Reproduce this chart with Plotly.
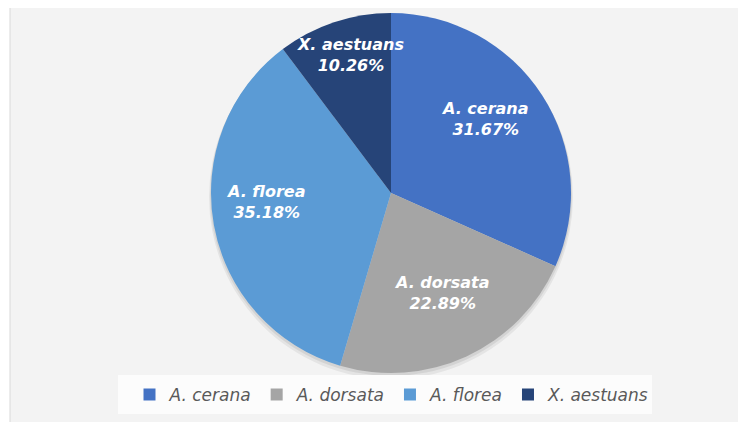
import math
import plotly.graph_objects as go

species = ["A. cerana", "A. dorsata", "A. florea", "X. aestuans"]
shares = [31.67, 22.89, 35.18, 10.26]
colors = ["#4472C4", "#A5A5A5", "#5B9BD5", "#264478"]

# label placement style (Excel "best fit" look): radial fraction and angle nudge
label_radius = [0.665, 0.62, 0.70, 0.80]
label_nudge_deg = [-5, -2, 6, 2]

W, H = 746, 426
OFF = 8  # page body margin offset
CX, CY, R = 391 - OFF, 193 - OFF, 180  # pie centre / radius in figure pixels


def px_x(p):
    return p / W


def px_y(p):
    return 1 - p / H


half = min(CX, W - CX)

fig = go.Figure()
fig.add_trace(go.Pie(
    labels=species,
    values=shares,
    sort=False,
    direction="clockwise",
    rotation=0,
    marker=dict(colors=colors, line=dict(width=0)),
    textinfo="none",
    hoverinfo="label+percent",
    domain=dict(x=[px_x(CX - half), px_x(CX + half)], y=[px_y(CY + R), px_y(CY - R)]),
))

# labels positioned from the data's own mid-angles
annotations = []
total = sum(shares)
cum = 0.0
for name, v, rf, nd in zip(species, shares, label_radius, label_nudge_deg):
    mid = (cum + v / 2) / total * 360 + nd
    cum += v
    rad = math.radians(mid)
    x = CX + rf * R * math.sin(rad)
    y = CY - rf * R * math.cos(rad)
    annotations.append(dict(
        x=px_x(x), y=px_y(y), xref="paper", yref="paper",
        text=f"<b><i>{name}</i></b><br><b><i>{v:.2f}%</i></b>",
        showarrow=False, xanchor="center", yanchor="middle",
        font=dict(family="DejaVu Sans", size=16, color="white"),
        align="center",
    ))

shapes = [
    # chart area background
    dict(type="rect", xref="paper", yref="paper", layer="below",
         x0=px_x(10 - OFF), x1=1.0, y0=px_y(422 - OFF), y1=1.0,
         fillcolor="#F3F3F3", line=dict(width=0)),
    dict(type="line", xref="paper", yref="paper", layer="below",
         x0=px_x(10 - OFF), x1=px_x(10 - OFF), y0=px_y(422 - OFF), y1=1.0,
         line=dict(color="#D9D9D9", width=1)),
    # soft shadow under the pie
    dict(type="circle", xref="paper", yref="paper", layer="below",
         x0=px_x(CX - R - 2), x1=px_x(CX + R + 2),
         y0=px_y(CY + R + 6), y1=px_y(CY - R + 2),
         fillcolor="rgba(0,0,0,0.06)", line=dict(width=0)),
    dict(type="circle", xref="paper", yref="paper", layer="below",
         x0=px_x(CX - R - 1), x1=px_x(CX + R + 1),
         y0=px_y(CY + R + 3), y1=px_y(CY - R + 1),
         fillcolor="rgba(0,0,0,0.07)", line=dict(width=0)),
    # legend band
    dict(type="rect", xref="paper", yref="paper", layer="below",
         x0=px_x(118 - OFF), x1=px_x(652 - OFF), y0=px_y(414 - OFF), y1=px_y(375 - OFF),
         fillcolor="#FCFCFC", line=dict(width=0)),
]

fig.update_layout(
    width=W, height=H,
    margin=dict(l=0, r=0, t=0, b=0),
    paper_bgcolor="white",
    showlegend=True,
    legend=dict(
        orientation="h",
        x=px_x(392 - OFF), xanchor="center",
        y=px_y(395 - OFF), yanchor="middle",
        font=dict(family="DejaVu Sans", size=17, color="#595959", style="italic"),
        bgcolor="rgba(0,0,0,0)",
        traceorder="normal",
    ),
    annotations=annotations,
    shapes=shapes,
)

fig.write_html("out.html")
